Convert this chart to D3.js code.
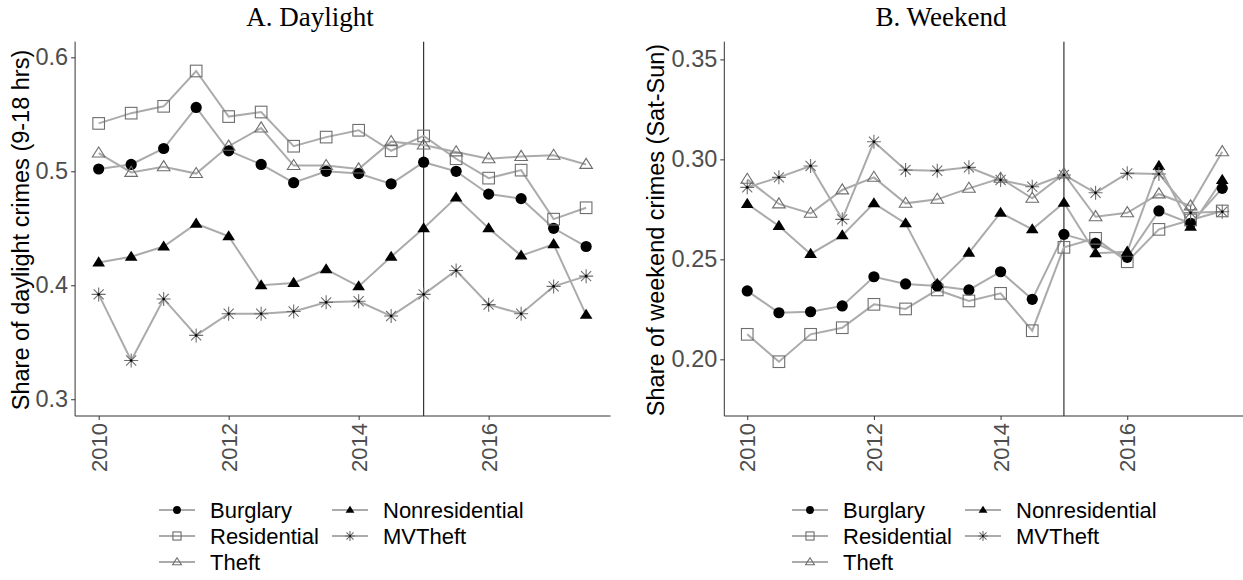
<!DOCTYPE html>
<html><head><meta charset="utf-8">
<script src="https://cdn.jsdelivr.net/npm/d3@7"></script>
<style>body{margin:0;background:#fff} svg{display:block}</style>
</head><body><svg id="c" width="1243" height="580"></svg>
<script>
const periods = [2010,2010.5,2011,2011.5,2012,2012.5,2013,2013.5,2014,2014.5,2015,2015.5,2016,2016.5,2017,2017.5];
const seriesNames = ["Burglary","Residential","Theft","Nonresidential","MVTheft"];
const xTicks = [2010,2012,2014,2016];
const cutoffYear = 2015;

// Panel A: Daylight share
const dayBurglary = [0.502,0.506,0.520,0.556,0.518,0.506,0.490,0.500,0.498,0.489,0.508,0.500,0.480,0.476,0.450,0.434];
const dayResidential = [0.542,0.551,0.557,0.588,0.548,0.552,0.522,0.530,0.536,0.518,0.531,0.511,0.494,0.501,0.458,0.468];
const dayTheft = [0.516,0.499,0.504,0.498,0.522,0.538,0.505,0.505,0.502,0.526,0.523,0.517,0.511,0.513,0.514,0.506];
const dayNonresidential = [0.420,0.425,0.434,0.454,0.443,0.400,0.402,0.414,0.399,0.425,0.450,0.477,0.450,0.426,0.436,0.374];
const dayMVTheft = [0.392,0.334,0.388,0.356,0.375,0.375,0.377,0.385,0.386,0.373,0.392,0.413,0.383,0.375,0.399,0.408];
const dayTicks = [0.3,0.4,0.5,0.6];

// Panel B: Weekend share
const wkBurglary = [0.2342,0.2233,0.2238,0.2267,0.2413,0.2377,0.2367,0.2347,0.2438,0.2300,0.2625,0.2580,0.2510,0.2742,0.2680,0.2855];
const wkResidential = [0.2125,0.1988,0.2125,0.2158,0.2275,0.2252,0.2347,0.2292,0.2330,0.2143,0.2560,0.2605,0.2488,0.2650,0.2697,0.2742];
const wkTheft = [0.2900,0.2777,0.2730,0.2847,0.2910,0.2780,0.2800,0.2855,0.2905,0.2805,0.2927,0.2713,0.2733,0.2827,0.2767,0.3038];
const wkNonresidential = [0.2777,0.2667,0.2527,0.2620,0.2780,0.2680,0.2377,0.2533,0.2733,0.2650,0.2783,0.2530,0.2538,0.2967,0.2663,0.2897];
const wkMVTheft = [0.2860,0.2910,0.2967,0.2700,0.3088,0.2947,0.2943,0.2960,0.2897,0.2863,0.2922,0.2833,0.2930,0.2927,0.2733,0.2738];
const wkTicks = [0.20,0.25,0.30,0.35];

const svg = d3.select("#c");
const LINE = "#ababab", OPEN = "#6e6e6e", TXT = "#4d4d4d", AX = "#333";

function marker(g, name, x, y, s) {
  if (name === "Burglary") {
    g.append("circle").attr("cx", x).attr("cy", y).attr("r", 5.6*s).attr("fill", "#000");
  } else if (name === "Residential") {
    const h = 5.8*s;
    g.append("rect").attr("x", x-h).attr("y", y-h).attr("width", 2*h).attr("height", 2*h)
      .attr("fill", "none").attr("stroke", OPEN).attr("stroke-width", 1.1);
  } else if (name === "Theft" || name === "Nonresidential") {
    const r = 7.2*s;
    const p = `M${x},${y - r*0.85}L${x + r*0.88},${y + r*0.55}L${x - r*0.88},${y + r*0.55}Z`;
    if (name === "Theft") g.append("path").attr("d", p).attr("fill", "none").attr("stroke", OPEN).attr("stroke-width", 1.1);
    else g.append("path").attr("d", p).attr("fill", "#000");
  } else {
    const r = 7*s, d = r*0.72;
    const p = `M${x-r},${y}L${x+r},${y}M${x},${y-r}L${x},${y+r}M${x-d},${y-d}L${x+d},${y+d}M${x-d},${y+d}L${x+d},${y-d}`;
    g.append("path").attr("d", p).attr("stroke", OPEN).attr("stroke-width", 1.1).attr("fill", "none");
    g.append("circle").attr("cx", x).attr("cy", y).attr("r", 1.3*s).attr("fill", "#000");
  }
}

function panel(cfg) {
  const x = d3.scaleLinear().domain([2009.625, 2017.875]).range(cfg.xr);
  const y = d3.scaleLinear().domain(cfg.yd).range([416, 41.7]);
  const g = svg.append("g");

  g.append("text").attr("x", cfg.tx).attr("y", 26).attr("text-anchor", "middle")
    .attr("font-family", "Liberation Serif, serif").attr("font-size", 27).attr("fill", "#000").text(cfg.title);

  g.append("line").attr("x1", x(cutoffYear)).attr("x2", x(cutoffYear)).attr("y1", 41.7).attr("y2", 416)
    .attr("stroke", "#222").attr("stroke-width", 1.1);

  const line = d3.line().x((d, i) => x(periods[i])).y(d => y(d));
  cfg.series.forEach(s => {
    g.append("path").attr("d", line(s.values)).attr("fill", "none").attr("stroke", LINE).attr("stroke-width", 2);
  });
  cfg.series.forEach(s => {
    s.values.forEach((v, i) => marker(g, s.name, x(periods[i]), y(v), 1));
  });

  const ya = g.append("g").attr("transform", `translate(${cfg.xr[0] + 0.8},0)`)
    .call(d3.axisLeft(y).tickValues(cfg.ticks).tickFormat(d3.format(cfg.fmt)).tickSize(4).tickPadding(3));
  ya.select(".domain").attr("stroke", AX).attr("d", `M0,416V41.7`);
  ya.selectAll(".tick line").attr("stroke", AX);
  ya.selectAll(".tick text").attr("font-family", "Liberation Sans, Arial, sans-serif").attr("font-size", 23.5).attr("fill", TXT);

  const xa = g.append("g").attr("transform", `translate(0,416)`)
    .call(d3.axisBottom(x).tickValues(xTicks).tickFormat(d3.format("d")).tickSize(4));
  xa.select(".domain").attr("stroke", AX).attr("d", `M${cfg.xr[0]+0.8},0H${cfg.xr[1]}`);
  xa.selectAll(".tick line").attr("stroke", AX);
  xa.selectAll(".tick text").attr("font-family", "Liberation Sans, Arial, sans-serif").attr("font-size", 22).attr("fill", TXT)
    .attr("transform", "rotate(-90)").attr("text-anchor", "end").attr("x", -7).attr("y", 0).attr("dy", "0.35em");

  g.append("text").attr("transform", `translate(${cfg.ylx},230) rotate(-90)`).attr("text-anchor", "middle")
    .attr("dy", "0.35em").attr("font-family", "Liberation Sans, Arial, sans-serif").attr("font-size", 23.5)
    .attr("fill", "#000").text(cfg.ylabel);

  const order = [["Burglary",0,0],["Residential",0,1],["Theft",0,2],["Nonresidential",1,0],["MVTheft",1,1]];
  const lg = g.append("g");
  order.forEach(([name, c, r]) => {
    const kx = cfg.lx + c*173, ky = 510 + r*26;
    lg.append("line").attr("x1", kx-18).attr("x2", kx+18).attr("y1", ky).attr("y2", ky).attr("stroke", LINE).attr("stroke-width", 2);
    marker(lg, name, kx, ky, 0.7);
    lg.append("text").attr("x", kx + 33).attr("y", ky).attr("dy", "0.36em")
      .attr("font-family", "Liberation Sans, Arial, sans-serif").attr("font-size", 22).attr("fill", "#000").text(name);
  });
}

function mk(arrs) { return seriesNames.map((n, i) => ({name: n, values: arrs[i]})); }

panel({title: "A. Daylight", tx: 310, xr: [74.3, 610.5], yd: [0.2853, 0.6137], ticks: dayTicks, fmt: ".1f",
  ylabel: "Share of daylight crimes (9-18 hrs)", ylx: 21, lx: 177,
  series: mk([dayBurglary, dayResidential, dayTheft, dayNonresidential, dayMVTheft])});
panel({title: "B. Weekend", tx: 941, xr: [723.5, 1246], yd: [0.17165, 0.35885], ticks: wkTicks, fmt: ".2f",
  ylabel: "Share of weekend crimes (Sat-Sun)", ylx: 656, lx: 810,
  series: mk([wkBurglary, wkResidential, wkTheft, wkNonresidential, wkMVTheft])});
</script></body></html>
